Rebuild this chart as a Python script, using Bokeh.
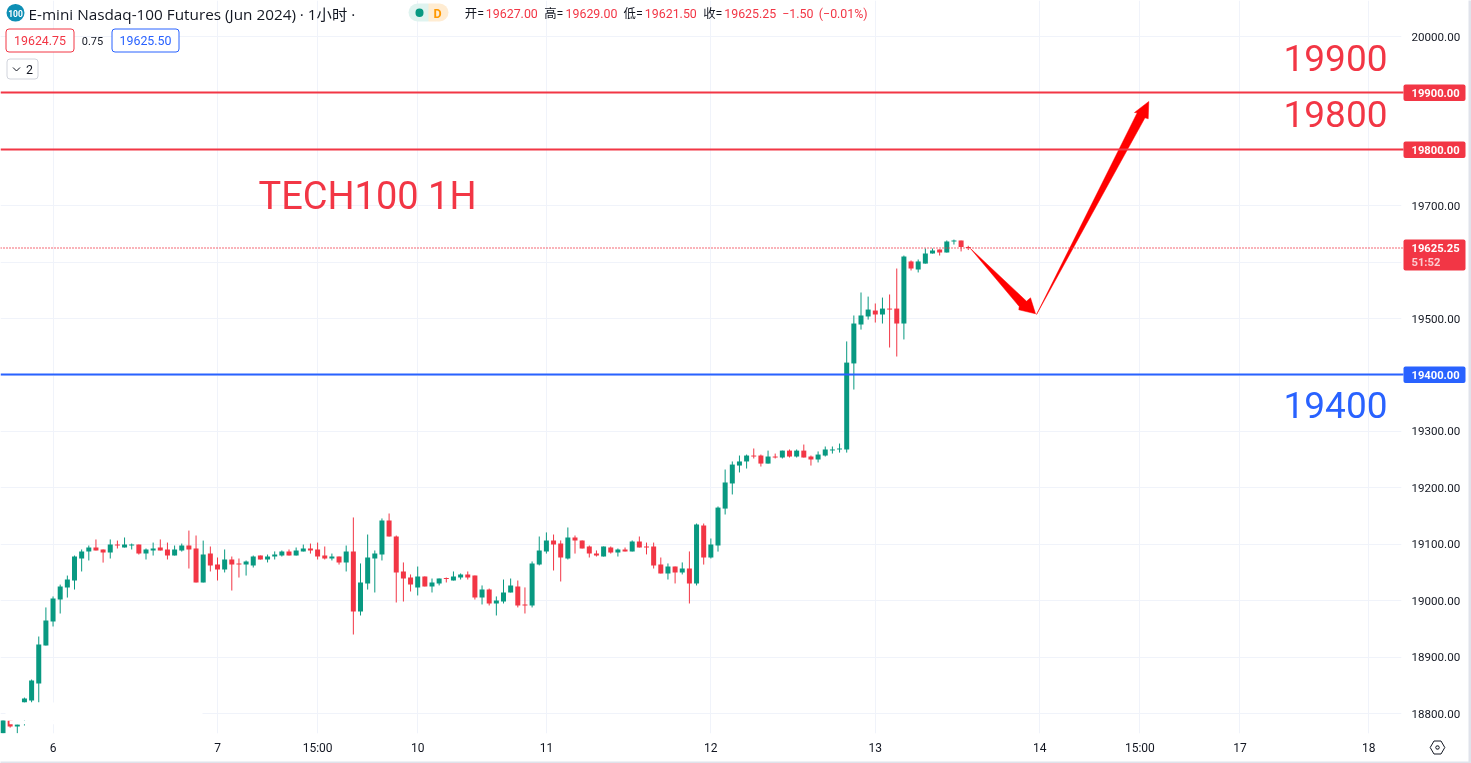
from bokeh.plotting import figure
from bokeh.models import (Label, BoxAnnotation, PolyAnnotation, FixedTicker, ColumnDataSource)
from bokeh.embed import file_html
from bokeh.resources import INLINE

opens = [18765,18787.5,18777,18819.5,18823,18853.25,18920.5,18963,19002,19023.25,
 19035.75,19074.75,19087,19094.25,19090.75,19085.5,19099.5,19094.25,19097.75,19099.5,
 19083.5,19089,19094.25,19090.75,19080,19089,19097.75,19092.5,19032.25,19083.5,
 19064,19055.25,19073,19065.75,19064,19062.25,19080,19073,19078.25,19080,
 19087.25,19080,19087.25,19092.5,19090.75,19080,19074.75,19078.25,19067.75,19087.25,
 18980.75,19030.5,19074.75,19081.75,19142,19113.75,19051.75,19041,19023.5,19043,
 19025.25,19030.5,19040,19035.75,19041,19046.5,19044.5,19005.75,19019.75,18995,
 18998.5,19014.5,19025.25,18993.25,18991.5,19064,19087.25,19106.75,19101.5,19074.75,
 19112,19106.75,19096,19083.5,19078.25,19094.25,19085.5,19090.75,19087.25,19105,
 19096,19096,19064,19048.25,19060.5,19050,19057,19030.5,19133.25,19076.5,
 19097.75,19163.25,19207.75,19239.5,19246.75,19257.25,19257.25,19243,19255.5,19253.75,
 19266,19255.5,19266,19255.5,19250.25,19257.25,19266.25,19268,19268,19420.5,
 19489.5,19503.75,19514.25,19507.25,19517.75,19517.75,19491.25,19601.25,19587,19597.5,
 19615.25,19622.5,19617,19636.5,19638.25,19627]
highs = [18787.5,18787.5,18780.5,18828.25,18860.25,18936.5,18988,19007.5,19028.5,19044.5,
 19080,19090.75,19097.75,19108.5,19090.75,19108.5,19106.5,19112,19101.25,19099.5,
 19092.5,19103,19108.5,19103,19097.75,19101.25,19124.25,19115.5,19106.5,19096,
 19076.5,19090.75,19078.25,19074.75,19071.25,19080,19080,19081.75,19087.25,19089,
 19090.75,19094.25,19099.5,19101.25,19103,19096,19083.5,19078.25,19097.75,19147.5,
 19066,19117.25,19089,19145.75,19154.5,19115.5,19067.75,19046.5,19060.5,19043,
 19039.25,19039.25,19041,19051.75,19048.25,19051.75,19044.5,19027,19021.5,19007.5,
 19037.5,19039.25,19035.75,19023.5,19069.5,19113.75,19121,19117.25,19106.75,19129.75,
 19115.5,19106.75,19097.75,19089,19096,19096,19092.5,19094.25,19106.75,19113.75,
 19103,19103,19076.5,19066,19060.5,19067.75,19087.25,19136.75,19136.75,19110.25,
 19167,19232.5,19246.75,19257.25,19259,19269.75,19259,19266,19260.75,19266,
 19268,19268,19276.75,19257.25,19264.5,19273.25,19273.25,19278.5,19459.5,19505.5,
 19546.25,19539,19526.75,19537.25,19542.75,19588.75,19611.75,19603,19604.75,19624.25,
 19624.25,19622.5,19638.5,19640,19638.25,19629]
lows = [18765,18775,18765,18778.75,18819.5,18819.5,18920.5,18954.25,18977.25,19005.5,
 19019.75,19051.75,19071.25,19089,19067.5,19074.75,19092.5,19094.25,19090.75,19081.75,
 19073,19080,19089,19073,19080,19087,19057,19032.25,19032.25,19051.75,
 19035.75,19050,19018,19041,19044.5,19058.75,19073,19067.75,19073,19078.25,
 19080,19080,19087.25,19083.5,19073,19073,19071.25,19064,19051.75,18940,
 18973.75,19019.75,19014.5,19071.25,19113.75,18996.75,18998.5,19016.25,19009.25,19025.25,
 19014.5,19027,19032.25,19035.75,19037.5,19037.5,19002,18993.25,18991.5,18973.75,
 18995,19014.5,18988,18977.25,18988,19062.5,19083.5,19053.5,19034,19073,
 19083.5,19092.5,19076.5,19078.25,19078.25,19083.5,19078.25,19087.25,19087.25,19094.25,
 19082,19057,19048.25,19037.5,19030.5,19046.5,18995,19027,19064,19074.75,
 19087,19152.75,19188.25,19227.25,19234.25,19252,19237.75,19243,19252,19252,
 19253.75,19253.75,19253.75,19239.5,19245,19255.5,19260.75,19262.5,19262.5,19374.25,
 19480.5,19498.25,19493,19491.25,19448.75,19432.75,19463,19585.25,19581.75,19597.5,
 19615.25,19611.75,19617,19631.25,19619,19621.5]
closes = [18787.5,18777,18780.5,18826.5,18858.5,18922.25,18964.75,19003.75,19025,19037.5,
 19078.25,19087,19094.25,19089,19085.5,19099.5,19097.75,19099.5,19099.5,19083.5,
 19090.75,19092.5,19089,19080,19090.75,19097.75,19090.75,19032.25,19081.75,19062.25,
 19055.25,19073,19064,19064,19069.5,19078.25,19073,19078.25,19081.75,19087.25,
 19080,19089,19092.5,19089,19078.25,19074.75,19078.25,19067.75,19087.25,18980.75,
 19032.25,19076.5,19083.5,19142,19113.75,19050,19039.25,19028.75,19043,19025.25,
 19032.25,19039.25,19038.25,19043,19046.5,19041,19005.75,19019.75,18995,19000.25,
 19014.5,19027,18991.5,18991.5,19066,19089,19106.75,19099.5,19076.5,19112,
 19106.75,19092.5,19083.5,19080,19096,19085.5,19090.75,19087.25,19105,19094.25,
 19094.25,19062.5,19048.25,19060.5,19050,19057,19030.5,19135,19076.5,19099.5,
 19165,19209.5,19241.25,19246.75,19257.25,19255.5,19243,19255.5,19253.75,19266,
 19255.5,19266,19253.75,19250.25,19259,19268,19268,19269.75,19422,19491.25,
 19505.5,19516,19507.25,19517.75,19516,19491.25,19610,19588.75,19601.25,19615.25,
 19620.5,19617,19636.5,19638.25,19627,19625.25]

price_ticks = [18800,18900,19000,19100,19200,19300,19400,19500,19600,19700,19800,19900,20000]
hidden_price_labels = [19400,19600,19800,19900]
time_ticks = [7,30,44,58,76,99,122,145,159,173,191]
time_labels = ["6","7","15:00","10","11","12","13","14","15:00","17","18"]
level_red = [19900,19800]
level_blue = [19400]
last_price = 19625.25

arrow1_bar = [135.31,143.15,143.71,144.41,142.07,142.13]
arrow1_price = [19624.2,19530.8,19536.8,19508.5,19515.6,19521.4]
arrow2_bar = [144.55,159.72,160.17,160.25,158.25,158.63]
arrow2_price = [19507.2,19855.9,19854.1,19884.8,19865.3,19864.8]

GREEN = "#089981"; RED = "#F23645"; BLUE = "#2962FF"; GRID = "#f0f3fa"; INK = "#131722"
ARROW = "#FF0000"; TXT_FONT = "Roboto, 'Noto Sans CJK SC'"
TITLE_FONT = "'Open Sans', 'Noto Sans CJK SC'"

def X(px): return (px - 2.5) / 7.15
def Y(py): return 20000 - (py - 36) * 1.7725
def row(price): return 36 + (20000 - price) / 1.7725

fixed = {"position": "fixed", "left": "0px", "top": "0px"}
p = figure(width=1471, height=763, x_range=(X(0), X(1401)), y_range=(Y(733), Y(0)),
           y_axis_location="right", tools="", toolbar_location=None, output_backend="svg",
           min_border_left=0, min_border_top=0, min_border_right=70, min_border_bottom=30,
           background_fill_color="white", border_fill_color="white", outline_line_color=None,
           styles=fixed)

# transparent sheet over the whole picture for the widgets and tags, in page pixels
q = figure(width=1471, height=763, x_range=(0, 1471), y_range=(763, 0),
           x_axis_location=None, y_axis_location=None, tools="", toolbar_location=None,
           output_backend="svg", min_border=0, background_fill_color=None, border_fill_color=None,
           outline_line_color=None, styles=fixed)
q.grid.visible = False

ya = p.yaxis[0]
ya.ticker = FixedTicker(ticks=price_ticks)
ya.major_label_overrides = {t: ("" if t in hidden_price_labels else f"{t}.00") for t in price_ticks}
ya.axis_line_color = None; ya.major_tick_line_color = None; ya.minor_tick_line_color = None
ya.major_tick_in = 0; ya.major_tick_out = 0; ya.minor_tick_in = 0; ya.minor_tick_out = 0
ya.major_label_standoff = 10
ya.major_label_text_font = "Roboto"; ya.major_label_text_font_size = "11.6px"
ya.major_label_text_color = INK

xa = p.xaxis[0]
xa.ticker = FixedTicker(ticks=time_ticks)
xa.major_label_overrides = dict(zip(time_ticks, time_labels))
xa.axis_line_color = None; xa.major_tick_line_color = None; xa.minor_tick_line_color = None
xa.major_tick_in = 0; xa.major_tick_out = 0; xa.minor_tick_in = 0; xa.minor_tick_out = 0
xa.major_label_standoff = 7
xa.major_label_text_font = "Roboto"; xa.major_label_text_font_size = "12px"
xa.major_label_text_color = INK

for g in (p.xgrid[0], p.ygrid[0]):
    g.grid_line_color = GRID; g.grid_line_width = 1
p.xgrid[0].ticker = FixedTicker(ticks=time_ticks)
p.ygrid[0].ticker = FixedTicker(ticks=price_ticks)

bars = list(range(len(opens)))
colors = [GREEN if c >= o else RED for o, c in zip(opens, closes)]
src = ColumnDataSource(dict(x=bars, o=opens, h=highs, l=lows, c=closes, color=colors,
                            top=[max(a, b) for a, b in zip(opens, closes)],
                            bottom=[min(a, b) for a, b in zip(opens, closes)]))
p.segment(x0="x", y0="h", x1="x", y1="l", color="color", line_width=1, source=src)
p.vbar(x="x", width=5/7.15, top="top", bottom="bottom", fill_color="color", line_color=None, source=src)

# the erased (white) patch of the picture
p.quad(left=[X(5), X(9)], right=[X(202), X(202)], top=[Y(702), Y(720)], bottom=[Y(720), Y(723.7)],
       fill_color="white", line_color=None)

for lv in level_red:
    py = round(row(lv))
    q.quad(left=[0], right=[1403], top=[py - 1], bottom=[py + 1], fill_color=RED, line_color=None)
for lv in level_blue:
    py = round(row(lv) - 0.1)
    q.quad(left=[0], right=[1403], top=[py - 1], bottom=[py + 1], fill_color=BLUE, line_color=None)
q.line([0, 1403], [round(row(last_price)) + 0.5] * 2, line_color=RED, line_width=1.6, line_dash="1 2")

p.patch(arrow1_bar, arrow1_price, fill_color=ARROW, line_color=ARROW, line_width=0.5)
p.patch(arrow2_bar, arrow2_price, fill_color=ARROW, line_color=ARROW, line_width=0.5)

def text(px, py, s, size, color=INK, align="left", style="normal", font=TXT_FONT, alpha=1.0):
    q.add_layout(Label(x=px, y=py, text=s, text_font=font,
                       text_font_size=f"{size}px", text_color=color, text_align=align,
                       text_baseline="middle", text_font_style=style, text_alpha=alpha))

def box(x0, x1, y0, y1, fill=None, line=None, radius=0):
    q.add_layout(BoxAnnotation(left=x0, right=x1, top=y0, bottom=y1,
                               fill_color=fill or "white", fill_alpha=1 if fill else 0,
                               line_color=line or "white", line_alpha=1 if line else 0,
                               line_width=1, border_radius=radius))

# big annotations
text(258, 195, "TECH100 1H", 38, RED, font="Roboto")
text(1283, 57, "19900", 37, RED, font="Roboto")
text(1283, 113, "19800", 37, RED, font="Roboto")
text(1283, 404, "19400", 37, BLUE, font="Roboto")

# price tags
for lv, col in [(19900, RED), (19800, RED), (19400, BLUE)]:
    py = round(row(lv) - 0.1)
    box(1403, 1465, py - 8, py + 8.5, fill=col, radius=2)
    text(1411, py + 0.3, f"{lv}.00", 11.2, "white", style="bold", font="Roboto")
box(1403, 1465, 239, 270, fill=RED, radius=2)
text(1411, 247.5, "19625.25", 11.2, "white", style="bold", font="Roboto")
text(1411, 261.5, "51:52", 11.2, "white", style="bold", font="Roboto", alpha=0.75)

# frame edges of the picture
box(1468, 1472, -1, 764, fill="#e0e3eb")
box(-1, 1472, 761, 764, fill="#e0e3eb")

# settings button
def poly(pts):
    q.add_layout(PolyAnnotation(xs=[a for a, _ in pts], ys=[b for _, b in pts],
                                fill_alpha=0, line_color=INK, line_alpha=1, line_width=1))
poly([(1429.7, 747), (1433.5, 740.5), (1440.5, 740.5), (1444.3, 747), (1440.5, 753.5), (1433.5, 753.5)])
poly([(1435.2, 747), (1436, 745.4), (1438, 745.4), (1438.8, 747), (1438, 748.6), (1436, 748.6)])

# legend row
box(6, 24, 3.5, 21, fill="#0e8fb5", radius=9)
text(15, 12.5, "100", 8.5, "white", align="center", style="bold", font="Roboto")
text(28, 13, "E-mini Nasdaq-100 Futures (Jun 2024) · 1小时 ·", 15.3, INK, font=TITLE_FONT)
box(408, 436, 3, 21, fill="#dff3ef", radius=9)
box(428, 448, 3, 21, fill="#ffecd2", radius=9)
box(428, 436, 3, 21, fill="#ffecd2")
box(415, 423, 8, 16.5, fill=GREEN, radius=4)
text(437, 12.5, "D", 12.5, "#FF9800", align="center", style="bold", font="Roboto")

for px, s, col in [(464.3, "开=", INK), (485.3, "19627.00", RED), (543.7, "高=", INK), (565, "19629.00", RED),
                   (623, "低=", INK), (644.3, "19621.50", RED), (702.7, "收=", INK), (723.7, "19625.25", RED),
                   (781.7, "−1.50", RED), (818.3, "(−0.01%)", RED)]:
    text(px, 13, s, 12.4, col)

box(5.5, 73.5, 28.5, 51.5, fill="white", line=RED, radius=3)
text(39.5, 40, "19624.75", 12.4, RED, align="center")
text(92, 40, "0.75", 11, INK, align="center")
box(111.5, 178.5, 28.5, 51.5, fill="white", line=BLUE, radius=3)
text(145, 40, "19625.50", 12.4, BLUE, align="center")
box(6.5, 37.5, 58.5, 78.5, fill="white", line="#d1d4dc", radius=3)
q.line([12.5, 16, 19.5], [67, 70.5, 67], line_color=INK, line_width=1, level="overlay")
text(29, 68.5, "2", 12.4, INK, align="center")

open("out.html", "w").write(file_html([p, q], INLINE))
